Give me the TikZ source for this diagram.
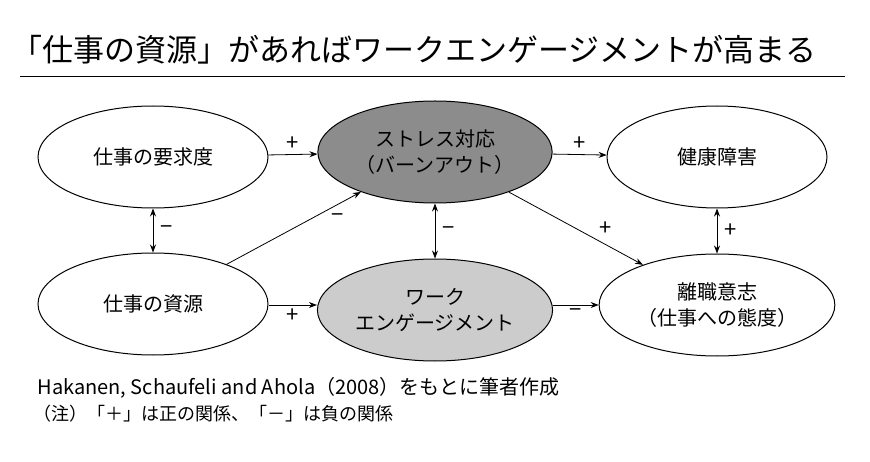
\documentclass[tikz,border=0pt]{standalone}
\usepackage{fontspec}
\setmainfont{Noto Sans CJK JP}
\usetikzlibrary{shapes.geometric,arrows.meta,positioning}
\tikzset{
  fac/.style={draw,ellipse,line width=1pt,minimum width=230pt,minimum height=102pt,
    align=center,font=\fontsize{20}{26}\selectfont},
  arr/.style={-{Stealth[length=8pt,width=6pt]},line width=0.8pt},
  both/.style={{Stealth[length=8pt,width=6pt]}-{Stealth[length=8pt,width=6pt]},line width=0.8pt},
  sgn/.style={font=\fontsize{22}{22}\selectfont}
}
\begin{document}
\begin{tikzpicture}[x=1pt,y=-1pt]
\useasboundingbox (0,0) rectangle (870,462);
% title
\node[anchor=west,font=\fontsize{31}{31}\selectfont] (title) at (8,50) {「仕事の資源」があればワークエンゲージメントが高まる};
\draw[line width=1pt] (20,77) -- (845,77);
% factors
\node[fac] (demand) at (153,157) {仕事の要求度};
\node[fac,fill=black!45] (stress) at (435,152) {ストレス対応\\（バーンアウト）};
\node[fac,minimum width=220pt] (health) at (717,157) {健康障害};
\node[fac] (resource) at (153,304) {仕事の資源};
\node[fac,fill=black!20] (engage) at (435,310) {ワーク\\エンゲージメント};
\node[fac,minimum width=220pt] (leave) at (717,305) {離職意志\\（仕事への態度）};
% connectors
\draw[arr] (demand) -- (stress) node[sgn,midway,above] {+};
\draw[arr] (stress) -- (health) node[sgn,midway,above] {+};
\draw[both] (demand) -- (resource) node[sgn,midway,right=4pt] {−};
\draw[arr] (resource) -- (stress) node[sgn,pos=0.75,below right] {−};
\draw[both] (stress) -- (engage) node[sgn,midway,right=4pt] {−};
\draw[arr] (stress) -- (leave) node[sgn,pos=0.65,above right] {+};
\draw[both] (health) -- (leave) node[sgn,midway,right=4pt] {+};
\draw[arr] (resource.east |- 0,305) -- (engage.west |- 0,305) node[sgn,midway,below] {+};
\draw[arr] (engage.east |- 0,305) -- (leave.west |- 0,305) node[sgn,midway,below] {−};
% notes
\node[anchor=west,font=\fontsize{20}{20}\selectfont] (src) at (34,388) {Hakanen, Schaufeli and Ahola（2008）をもとに筆者作成};
\node[anchor=west,font=\fontsize{18}{18}\selectfont] (note) at (30,414) {（注）「＋」は正の関係、「－」は負の関係};
\end{tikzpicture}
\end{document}
